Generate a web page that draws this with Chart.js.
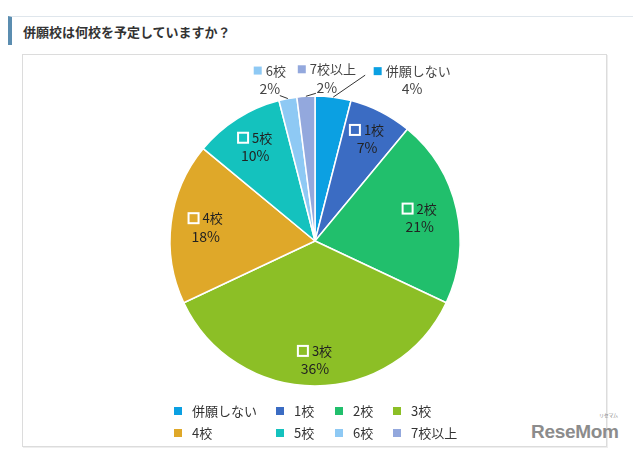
<!DOCTYPE html>
<html><head><meta charset="utf-8">
<script src="https://cdn.jsdelivr.net/npm/chart.js@4"></script>
<style>
html,body{margin:0;padding:0;background:#fff;width:640px;height:456px;overflow:hidden;}
#head{position:absolute;left:8px;top:16px;width:625px;height:29px;border-left:4px solid #5b8db0;border-top:1px solid #dfe6ec;box-sizing:border-box;}
#title{position:absolute;left:23px;top:22px;font:bold 13px "Noto Sans CJK JP",sans-serif;color:#333;white-space:nowrap;}
#frame{position:absolute;left:22px;top:54px;width:585px;height:393px;border:1px solid #dcdcdc;box-sizing:border-box;box-shadow:1px 1px 0 #eee;}
#logo{position:absolute;left:531px;top:421px;font:bold 19px "Liberation Sans",Arial,sans-serif;color:#8c8c8c;white-space:nowrap;letter-spacing:-0.3px;}
#logo small{position:absolute;left:68px;top:-10px;font:5px "Noto Sans CJK JP",sans-serif;color:#888;}
canvas{position:absolute;left:0;top:0;}
</style></head>
<body>
<div id="head"></div>
<div id="title">併願校は何校を予定していますか？</div>
<div id="frame"></div>
<div id="logo">ReseMom<small>リセマム</small></div>
<canvas id="c" width="640" height="456"></canvas>
<script>
// ---- data ----
const categories = ['併願しない','1校','2校','3校','4校','5校','6校','7校以上'];
const values = [4, 7, 21, 36, 18, 10, 2, 2];
const colors = ['#0ba0e2','#3b6cc3','#21bf6c','#8cbf26','#dfa829','#14c2be','#8ec9f4','#93a8dd'];

// ---- label placement styling ----
const labelInside = [false, true, true, true, true, true, false, false];
const labelRadius = [0, 0.79, 0.74, 0.82, 0.76, 0.77, 0, 0];
const outLabelOffset = [[79,-17],null,null,null,null,null,[-18,-19],[21,-18]];
const outLineEnd = [[32,-22],null,null,null,null,null,[-8,-3],[10,-3]];

const FONT = '13px "Noto Sans CJK JP", sans-serif';
const PFONT = '14px "Noto Sans CJK JP", sans-serif';
const TXT = '#222';

const labelPlugin = {
  id: 'sliceLabels',
  afterDatasetsDraw(chart) {
    const ctx = chart.ctx;
    const meta = chart.getDatasetMeta(0);
    const total = values.reduce((a,b)=>a+b,0);
    ctx.save();
    ctx.textBaseline = 'middle';
    meta.data.forEach((arc, i) => {
      const p = arc.getProps(['x','y','startAngle','endAngle','outerRadius'], true);
      const mid = (p.startAngle + p.endAngle) / 2;
      const pct = Math.round(values[i] / total * 100) + '%';
      const name = categories[i];
      let cx, cy, sq, filled;
      if (labelInside[i]) {
        const r = p.outerRadius * labelRadius[i];
        cx = p.x + Math.cos(mid) * r;
        cy = p.y + Math.sin(mid) * r;
        sq = 10; filled = false;
      } else {
        const ox = p.x + Math.cos(mid) * p.outerRadius;
        const oy = p.y + Math.sin(mid) * p.outerRadius;
        cx = ox + outLabelOffset[i][0];
        cy = oy + outLabelOffset[i][1];
        sq = 8; filled = true;
        ctx.strokeStyle = '#333';
        ctx.lineWidth = 1;
        ctx.beginPath();
        ctx.moveTo(ox, oy);
        ctx.lineTo(ox + outLineEnd[i][0], oy + outLineEnd[i][1]);
        ctx.stroke();
      }
      ctx.font = FONT;
      const gap = 4;
      const tw = ctx.measureText(name).width;
      const w = sq + gap + tw;
      const x0 = cx - w / 2;
      const y1 = cy - 9, y2 = cy + 9;
      if (filled) {
        ctx.fillStyle = colors[i];
        ctx.fillRect(x0, y1 - sq/2, sq, sq);
      } else {
        ctx.strokeStyle = '#fff';
        ctx.lineWidth = 2;
        ctx.strokeRect(x0, y1 - sq/2, sq, sq);
      }
      ctx.fillStyle = filled ? '#444' : TXT;
      ctx.textAlign = 'left';
      ctx.fillText(name, x0 + sq + gap, y1);
      ctx.font = PFONT;
      ctx.textAlign = 'center';
      ctx.fillText(pct, cx, y2);
    });
    ctx.restore();
  }
};

const legendCols = [174, 276, 335, 393];
const legendRows = [411, 433];
const legendPlugin = {
  id: 'gridLegend',
  afterDraw(chart) {
    const ctx = chart.ctx;
    ctx.save();
    ctx.font = FONT;
    ctx.textBaseline = 'middle';
    ctx.textAlign = 'left';
    chart.data.labels.forEach((lab, i) => {
      const x = legendCols[i % 4], y = legendRows[Math.floor(i / 4)];
      ctx.fillStyle = chart.data.datasets[0].backgroundColor[i];
      ctx.fillRect(x, y - 4, 8, 8);
      ctx.fillStyle = '#333';
      ctx.fillText(lab, x + 18, y);
    });
    ctx.restore();
  }
};

new Chart(document.getElementById('c'), {
  type: 'pie',
  data: {
    labels: categories,
    datasets: [{
      data: values,
      backgroundColor: colors,
      borderColor: '#ffffff',
      borderWidth: 1.5,
      hoverOffset: 0
    }]
  },
  options: {
    responsive: false,
    animation: false,
    events: [],
    radius: 145,
    layout: { padding: { left: 170, right: 180, top: 96, bottom: 70 } },
    plugins: { legend: { display: false }, tooltip: { enabled: false }, title: { display: false } }
  },
  plugins: [labelPlugin, legendPlugin]
});
</script>
</body></html>
